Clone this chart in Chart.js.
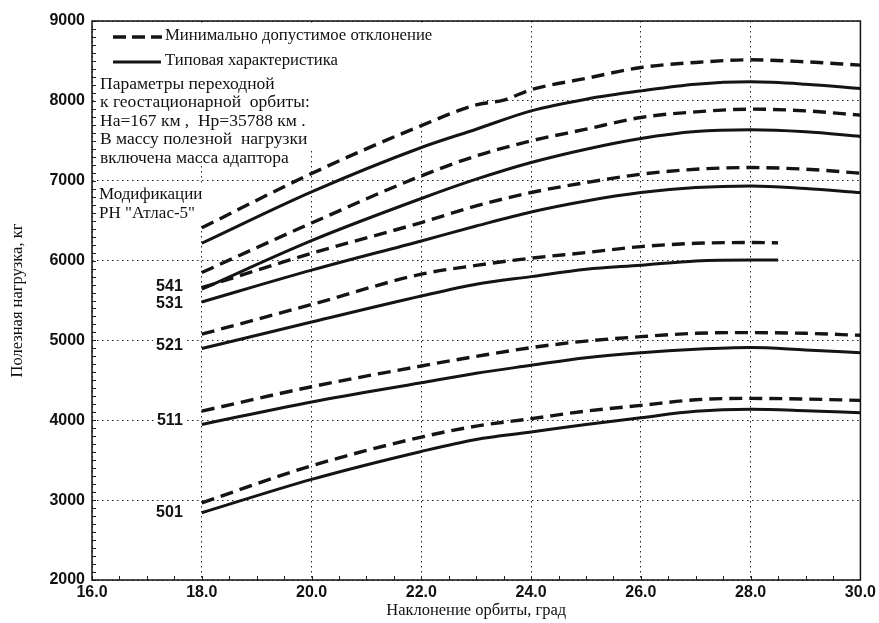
<!DOCTYPE html>
<html lang="ru">
<head>
<meta charset="utf-8">
<title>Полезная нагрузка РН "Атлас-5"</title>
<script src="https://cdn.jsdelivr.net/npm/chart.js@4.4.1/dist/chart.umd.min.js"></script>
<style>
  html, body { margin: 0; padding: 0; background: #fff; }
  #wrap { width: 879px; height: 623px; }
</style>
</head>
<body>
<div id="wrap"><canvas id="grafico"></canvas></div>
<script>
// DADOS (наклонение орбиты, град / полезная нагрузка, кг)
const naklon = [18, 20, 22, 23, 24, 25, 26, 27, 28, 29, 30];
const naklonVerh = [18, 20, 22, 23, 23.5, 24, 25, 26, 27, 28, 29, 30];
const naklon521 = [18, 20, 22, 23, 24, 25, 26, 27, 28, 28.5];

const minVerh = [6410, 7090, 7690, 7950, 8010, 8140, 8281, 8418, 8481, 8514, 8489, 8447];
const tipVerh = [6217, 6860, 7416, 7645, 7875, 8021, 8125, 8209, 8238, 8209, 8155];
const min541 = [5850, 6470, 7061, 7311, 7499, 7645, 7792, 7862, 7896, 7875, 7821];
const tip541 = [5641, 6250, 6777, 7019, 7228, 7395, 7529, 7616, 7637, 7612, 7554];
const min531 = [5660, 6090, 6476, 6684, 6852, 6977, 7081, 7144, 7165, 7144, 7094];
const tip531 = [5482, 5880, 6246, 6433, 6609, 6747, 6852, 6915, 6935, 6902, 6852];
const min521 = [5078, 5450, 5830, 5940, 6030, 6100, 6175, 6216, 6226, 6222];
const tip521 = [4899, 5230, 5556, 5704, 5799, 5891, 5941, 5995, 6008, 6008];
const min511 = [4115, 4420, 4680, 4800, 4910, 4992, 5047, 5089, 5098, 5089, 5064];
const tip511 = [3948, 4230, 4471, 4590, 4688, 4784, 4847, 4889, 4910, 4880, 4847];
const min501 = [2967, 3430, 3790, 3927, 4020, 4115, 4186, 4257, 4274, 4266, 4249];
const tip501 = [2842, 3260, 3610, 3760, 3852, 3948, 4033, 4112, 4137, 4120, 4095];

const metki = ["541", "531", "521", "511", "501"];
const metkiSerii = [tip541, tip531, tip521, tip511, tip501];

const legendaTexto = ["Минимально допустимое отклонение", "Типовая характеристика"];
const parametrosTexto = [
  "Параметры переходной",
  "к геостационарной  орбиты:",
  "На=167 км ,  Нр=35788 км .",
  "В массу полезной  нагрузки",
  "включена масса адаптора"
];
const modifTexto = ["Модификации", "РН \"Атлас-5\""];

const SERIF = "'Liberation Serif', 'DejaVu Serif', serif";
const SANS = "'Liberation Sans', Arial, sans-serif";

function pontos(xs, ys) {
  return ys.map((y, i) => ({ x: xs[i], y }));
}

function serie(xs, ys, tracejada) {
  return {
    data: pontos(xs, ys),
    borderColor: "#141414",
    borderWidth: tracejada ? 3.4 : 3,
    borderDash: tracejada ? [13, 7] : [],
    pointRadius: 0,
    cubicInterpolationMode: "monotone",
    fill: false
  };
}

// TEXTOS, MOLDURA, TRACINHOS
const anotacoes = {
  id: "anotacoes",
  beforeDatasetsDraw(chart) {
    const ctx = chart.ctx;
    ctx.save();
    ctx.fillStyle = "#fff";
    // fundo branco sob o bloco de texto (esconde a grade)
    ctx.fillRect(94, 23, 389, 99);
    ctx.fillRect(94, 122, 250, 28);
    ctx.fillRect(94, 150, 212, 10);
    ctx.fillRect(94, 184, 112, 40);
    ctx.restore();
  },
  afterDatasetsDraw(chart) {
    const ctx = chart.ctx;
    const { x, y } = chart.scales;
    const area = chart.chartArea;
    ctx.save();

    // legenda
    ctx.strokeStyle = "#141414";
    ctx.lineWidth = 3.4;
    ctx.setLineDash([13, 6]);
    ctx.beginPath(); ctx.moveTo(113, 37); ctx.lineTo(162, 37); ctx.stroke();
    ctx.setLineDash([]);
    ctx.lineWidth = 3;
    ctx.beginPath(); ctx.moveTo(113, 62); ctx.lineTo(161, 62); ctx.stroke();

    ctx.fillStyle = "#111";
    ctx.textBaseline = "middle";
    ctx.textAlign = "left";
    ctx.font = "16.7px " + SERIF;
    ctx.fillText(legendaTexto[0], 165, 36);
    ctx.fillText(legendaTexto[1], 165, 61);
    ctx.font = "17.5px " + SERIF;
    parametrosTexto.forEach((t, i) => ctx.fillText(t, 100, 84 + i * 18.5));
    ctx.font = "17px " + SERIF;
    modifTexto.forEach((t, i) => ctx.fillText(t, 99, 195 + i * 18.5));

    // metki modifikacij
    const sdvig = [-3, 1.5, -2.5, -3.5, 0];
    ctx.font = "bold 16px " + SANS;
    ctx.textAlign = "right";
    metki.forEach((m, i) => {
      const py = y.getPixelForValue(metkiSerii[i][0]) + sdvig[i];
      const px = x.getPixelForValue(naklon[0]) - 19;
      const w = ctx.measureText(m).width;
      ctx.fillStyle = "#fff";
      ctx.fillRect(px - w - 3, py - 7, w + 6, 14);
      ctx.fillStyle = "#111";
      ctx.fillText(m, px, py);
    });

    // tracinhos menores
    ctx.strokeStyle = "#222";
    ctx.lineWidth = 1;
    for (let v = 2000; v <= 9000; v += 100) {
      const py = Math.round(y.getPixelForValue(v)) + 0.5;
      ctx.beginPath(); ctx.moveTo(area.left, py); ctx.lineTo(area.left + 4, py); ctx.stroke();
    }
    for (let v = 16; v <= 30; v += 0.5) {
      const px = Math.round(x.getPixelForValue(v)) + 0.5;
      ctx.beginPath(); ctx.moveTo(px, area.bottom); ctx.lineTo(px, area.bottom - 4); ctx.stroke();
    }

    // moldura
    ctx.strokeStyle = "#111";
    ctx.lineWidth = 1.5;
    ctx.strokeRect(area.left, area.top, area.right - area.left, area.bottom - area.top);
    ctx.restore();
  }
};

new Chart(document.getElementById("grafico").getContext("2d"), {
  type: "line",
  data: {
    datasets: [
      serie(naklonVerh, minVerh, true),
      serie(naklon, tipVerh, false),
      serie(naklon, min541, true),
      serie(naklon, tip541, false),
      serie(naklon, min531, true),
      serie(naklon, tip531, false),
      serie(naklon521, min521, true),
      serie(naklon521, tip521, false),
      serie(naklon, min511, true),
      serie(naklon, tip511, false),
      serie(naklon, min501, true),
      serie(naklon, tip501, false)
    ]
  },
  options: {
    responsive: true,
    maintainAspectRatio: false,
    animation: false,
    layout: { padding: { left: 0, right: 17, top: 21, bottom: 0 } },
    plugins: { legend: { display: false }, tooltip: { enabled: false } },
    scales: {
      x: {
        type: "linear",
        min: 16, max: 30,
        ticks: {
          stepSize: 2,
          color: "#111",
          padding: 3,
          font: { family: SANS, size: 16, weight: "bold" },
          callback: v => v.toFixed(1)
        },
        grid: { color: "#222", lineWidth: 1, drawTicks: false },
        border: { display: false, dash: [1.5, 3.5] },
        title: {
          display: true,
          text: "Наклонение орбиты, град",
          color: "#111",
          font: { family: SERIF, size: 16.5 },
          padding: { top: 0, bottom: 2 }
        },
        afterFit: s => { s.height = 43; }
      },
      y: {
        min: 2000, max: 9000,
        ticks: {
          stepSize: 1000,
          color: "#111",
          padding: 7,
          font: { family: SANS, size: 16, weight: "bold" },
          callback: v => String(v)
        },
        grid: { color: "#222", lineWidth: 1, drawTicks: false },
        border: { display: false, dash: [1.5, 3.5] },
        title: {
          display: true,
          text: "Полезная нагрузка, кг",
          color: "#111",
          font: { family: SERIF, size: 16.5 },
          padding: { top: 8, bottom: 0 }
        },
        afterFit: s => { s.width = 92; }
      }
    }
  },
  plugins: [anotacoes]
});
</script>
</body>
</html>
